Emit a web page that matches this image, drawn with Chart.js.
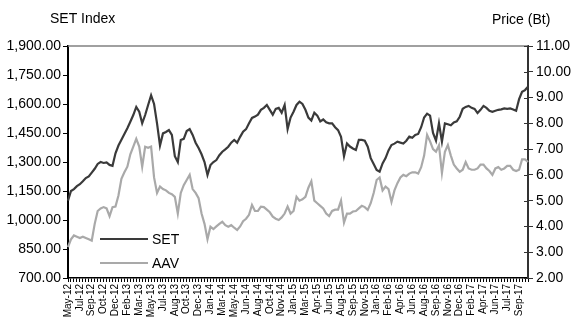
<!DOCTYPE html>
<html>
<head>
<meta charset="utf-8">
<script src="https://cdn.jsdelivr.net/npm/chart.js@4.4.0/dist/chart.umd.min.js"></script>
<style>
html,body{margin:0;padding:0;background:#fff;}
#wrap{width:572px;height:322px;}
</style>
</head>
<body>
<div id="wrap"><canvas id="c" width="572" height="322"></canvas></div>
<script>
// Tick labels shown on the x axis (one every 4 data points)
const tickLabels = ["May-12","Jul-12","Sep-12","Oct-12","Dec-12","Feb-13","Mar-13","May-13","Jul-13","Aug-13","Oct-13","Dec-13","Jan-14","Mar-14","May-14","Jun-14","Aug-14","Oct-14","Nov-14","Jan-15","Mar-15","Apr-15","Jun-15","Aug-15","Sep-15","Nov-15","Jan-16","Feb-16","Apr-16","Jun-16","Aug-16","Sep-16","Nov-16","Dec-16","Feb-17","Apr-17","Jun-17","Jul-17","Sep-17"];

// SET Index (left axis)
const setValues = [1100,1150,1160,1175,1185,1200,1217,1225,1245,1265,1290,1300,1295,1298,1285,1280,
1345,1385,1415,1445,1475,1508,1543,1585,1560,1500,1543,1595,1645,1600,1500,1385,1448,1455,1465,1440,
1330,1300,1414,1420,1460,1470,1440,1400,1372,1340,1300,1233,1284,1300,1310,1335,1353,1365,1379,1400,
1414,1400,1430,1457,1470,1500,1528,1535,1545,1570,1580,1595,1570,1545,1575,1580,1555,1595,1470,1530,
1560,1595,1612,1600,1570,1530,1515,1555,1540,1510,1520,1505,1500,1500,1480,1465,1430,1330,1396,1380,
1370,1362,1414,1414,1410,1379,1320,1290,1259,1250,1293,1320,1360,1388,1395,1405,1400,1396,1410,1431,
1425,1440,1445,1480,1530,1550,1540,1450,1410,1500,1405,1500,1495,1490,1505,1510,1534,1575,1585,1590,
1580,1575,1553,1570,1590,1580,1565,1560,1565,1570,1572,1577,1575,1577,1572,1565,1625,1663,1672,1690];

// AAV price in Baht (right axis)
const aavValues = [3.2,3.5,3.65,3.6,3.55,3.6,3.55,3.5,3.45,4.1,4.6,4.7,4.75,4.7,4.4,4.75,
4.77,5.2,5.85,6.1,6.32,6.8,7.1,7.4,7.1,6.32,7.09,7.05,7.1,5.9,5.3,5.55,5.45,5.4,5.3,5.25,
5.15,4.5,5.3,5.6,5.8,6.0,5.45,5.3,5.1,4.5,4.1,3.5,3.99,3.9,4.0,4.1,4.18,4.05,3.99,4.05,
3.95,3.86,4.0,4.2,4.3,4.45,4.83,4.6,4.6,4.77,4.75,4.65,4.55,4.38,4.3,4.25,4.35,4.5,4.77,4.5,
4.6,5.15,5.0,5.05,5.15,5.5,5.75,5.0,4.9,4.8,4.7,4.5,4.4,4.6,4.65,4.65,5.0,4.15,4.5,4.5,
4.58,4.6,4.7,4.8,4.75,4.64,4.9,5.3,5.8,5.9,5.4,5.55,5.45,4.95,5.4,5.68,5.9,6.0,5.95,6.05,
6.1,6.1,6.05,6.3,6.75,7.55,7.3,7.0,6.9,7.15,6.07,6.9,7.16,6.75,6.4,6.25,6.12,6.2,6.5,6.25,
6.2,6.2,6.25,6.4,6.4,6.25,6.15,6.0,6.25,6.3,6.2,6.25,6.35,6.35,6.2,6.15,6.2,6.6,6.6,6.5];

const seriesNames = ["SET","AAV"];
const leftTicks = {min:700, max:1900, step:150};
const rightTicks = {min:2, max:11, step:1};

const categories = setValues.map((v,i) => (i % 4 === 0 && tickLabels[i/4]) ? tickLabels[i/4] : '');

const FONT = '"Liberation Sans", Arial, sans-serif';

function fmtThousands(v){
  const s = v.toFixed(2);
  const parts = s.split('.');
  parts[0] = parts[0].replace(/\B(?=(\d{3})+(?!\d))/g, ',');
  return parts.join('.');
}

const decor = {
  id:'decor',
  afterDatasetsDraw(chart){
    const ctx = chart.ctx, a = chart.chartArea;
    ctx.save();
    // top border
    ctx.strokeStyle = '#808080'; ctx.lineWidth = 1.5;
    ctx.beginPath(); ctx.moveTo(a.left, a.top); ctx.lineTo(a.right, a.top); ctx.stroke();
    // right axis inward ticks
    const yr = chart.scales.y2;
    ctx.strokeStyle = '#333'; ctx.lineWidth = 1;
    yr.ticks.forEach(t => {
      const y = Math.round(yr.getPixelForValue(t.value)) + 0.5;
      ctx.beginPath(); ctx.moveTo(a.right - 4, y); ctx.lineTo(a.right, y); ctx.stroke();
    });
    // legend inside plot
    const ds = chart.data.datasets;
    const rows = [a.top + 193, a.top + 217];
    ds.forEach((d, k) => {
      const y = rows[k];
      ctx.strokeStyle = d.borderColor; ctx.lineWidth = 2;
      ctx.beginPath(); ctx.moveTo(a.left + 32, y); ctx.lineTo(a.left + 80, y); ctx.stroke();
      ctx.fillStyle = '#000'; ctx.font = '14px ' + FONT;
      ctx.textBaseline = 'middle'; ctx.textAlign = 'left';
      ctx.fillText(d.label, a.left + 84, y + 1);
    });
    // axis titles
    ctx.fillStyle = '#000'; ctx.font = '14px ' + FONT; ctx.textBaseline = 'alphabetic';
    ctx.textAlign = 'left';
    ctx.fillText('SET Index', 50, 23);
    ctx.fillText('Price (Bt)', 492, 24);
    ctx.restore();
  }
};

new Chart(document.getElementById('c'), {
  type:'line',
  data:{
    labels: categories,
    datasets:[
      {label:seriesNames[0], data:setValues, yAxisID:'y', borderColor:'#3a3a3a', borderWidth:2.2, pointRadius:0, tension:0, fill:false},
      {label:seriesNames[1], data:aavValues, yAxisID:'y2', borderColor:'#a9a9a9', borderWidth:2.2, pointRadius:0, tension:0, fill:false}
    ]
  },
  options:{
    responsive:false,
    animation:false,
    layout:{padding:{top:46, left:0, right:0, bottom:0}},
    plugins:{legend:{display:false}, tooltip:{enabled:false}, title:{display:false}},
    scales:{
      x:{
        type:'category',
        offset:false,
        grid:{drawOnChartArea:false, drawTicks:true, tickLength:4, color:'#000', lineWidth:1},
        border:{display:true, color:'#000', width:1.5},
        ticks:{autoSkip:false, maxRotation:90, minRotation:90, padding:2, color:'#000', font:{family:FONT, size:10},
          callback:function(v, i){ return categories[i]; }},
        afterFit(s){ s.height = 44; }
      },
      y:{
        position:'left',
        min:leftTicks.min, max:leftTicks.max,
        grid:{drawOnChartArea:false, drawTicks:true, tickLength:5, color:'#000'},
        border:{display:true, color:'#000', width:2},
        ticks:{stepSize:leftTicks.step, color:'#000', padding:2, font:{family:FONT, size:14},
          callback:(v)=>fmtThousands(v)},
        afterFit(s){ s.width = 68; }
      },
      y2:{
        position:'right',
        min:rightTicks.min, max:rightTicks.max,
        grid:{drawOnChartArea:false, drawTicks:true, tickLength:5, color:'#333'},
        border:{display:true, color:'#333', width:2},
        ticks:{stepSize:rightTicks.step, color:'#000', padding:3, font:{family:FONT, size:14},
          callback:(v)=>v.toFixed(2)},
        afterFit(s){ s.width = 44; }
      }
    }
  },
  plugins:[decor]
});
</script>
</body>
</html>
